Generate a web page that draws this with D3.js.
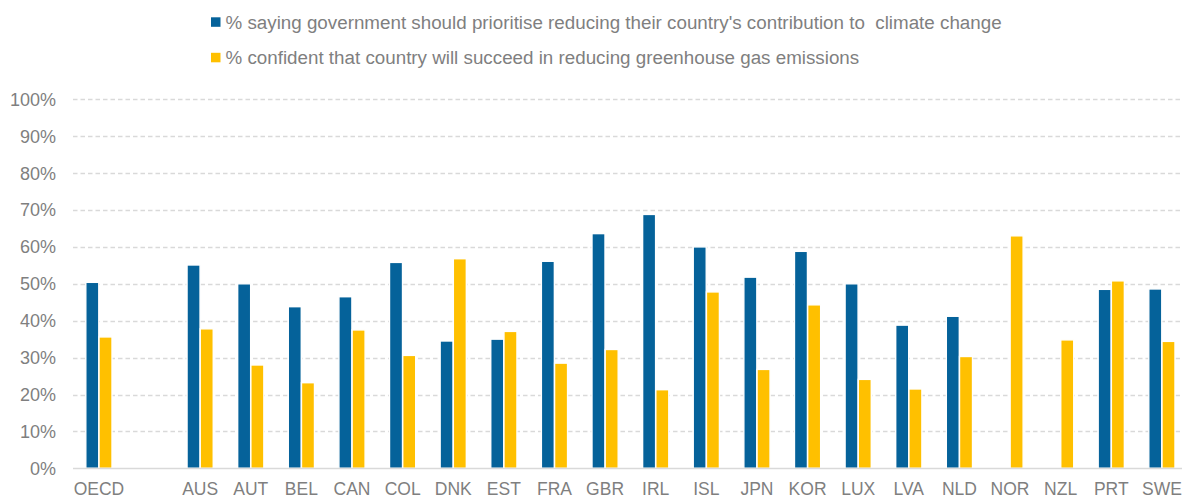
<!DOCTYPE html>
<html>
<head>
<meta charset="utf-8">
<script src="https://cdn.jsdelivr.net/npm/d3@7"></script>
<style>
  html, body { margin: 0; padding: 0; background: #fff; }
  svg { display: block; font-family: "Liberation Sans", Arial, sans-serif; }
</style>
</head>
<body>
<svg id="chart" width="1182" height="498"></svg>
<script>
const categories = ["OECD", "", "AUS", "AUT", "BEL", "CAN", "COL", "DNK", "EST", "FRA", "GBR", "IRL", "ISL", "JPN", "KOR", "LUX", "LVA", "NLD", "NOR", "NZL", "PRT", "SWE"];
const prioritise = [50.4, null, 55.1, 50.0, 43.8, 46.5, 55.8, 34.5, 35.0, 56.1, 63.6, 68.8, 60.0, 51.8, 58.8, 50.0, 38.8, 41.2, null, null, 48.5, 48.6];
const confident  = [35.6, null, 37.8, 28.0, 23.2, 37.5, 30.6, 56.8, 37.1, 28.5, 32.2, 21.3, 47.8, 26.8, 44.3, 24.1, 21.5, 30.3, 63.0, 34.8, 50.8, 34.4];
const seriesNames = ["% saying government should prioritise reducing their country's contribution to  climate change",
                     "% confident that country will succeed in reducing greenhouse gas emissions"];
const yTicks = [0, 10, 20, 30, 40, 50, 60, 70, 80, 90, 100];

const colors = ["#05629A", "#FFC000"];
const textColor = "#7f7f7f";
const gridColor = "#d9d9d9";

const svg = d3.select("#chart");
const keys = categories.map((c, i) => c === "" ? "__gap" + i : c);

const x = d3.scaleBand().domain(keys).range([73.6, 1187.2]).padding(0);
const y = d3.scaleLinear().domain([0, 100]).range([468.3, 99.3]);

// gridlines
svg.append("g").selectAll("line").data(yTicks.filter(t => t > 0)).join("line")
  .attr("x1", 73).attr("x2", 1182)
  .attr("y1", d => Math.round(y(d)) + 0.5).attr("y2", d => Math.round(y(d)) + 0.5)
  .attr("stroke", gridColor).attr("stroke-width", 1.3).attr("stroke-dasharray", "4.5,3");

// y tick labels
svg.append("g").selectAll("text").data(yTicks).join("text")
  .attr("x", 56).attr("y", d => y(d)).attr("dy", "0.36em")
  .attr("text-anchor", "end").attr("fill", textColor).attr("font-size", 18)
  .text(d => d + "%");

// bars
const data = categories.map((c, i) => ({ key: keys[i], vals: [prioritise[i], confident[i]] }));
const barW = 13;
const g = svg.append("g");
data.forEach(d => {
  const cx = x(d.key) + x.bandwidth() / 2;
  d.vals.forEach((v, j) => {
    if (v == null) return;
    g.append("rect")
      .attr("x", j === 0 ? cx - barW - 0.1 : cx + 0.1)
      .attr("y", y(v))
      .attr("width", barW)
      .attr("height", y(0) - y(v))
      .attr("fill", colors[j])
      .attr("stroke", "#fff").attr("stroke-width", 1.4);
  });
});

// x axis baseline
svg.append("line").attr("x1", 73).attr("x2", 1182).attr("y1", 468.5).attr("y2", 468.5)
  .attr("stroke", gridColor).attr("stroke-width", 1.5);

// x labels
svg.append("g").selectAll("text").data(data).join("text")
  .attr("x", d => x(d.key) + x.bandwidth() / 2).attr("y", 495)
  .attr("text-anchor", "middle").attr("fill", textColor).attr("font-size", 17.5)
  .text((d, i) => categories[i]);

// legend
const legend = svg.append("g");
seriesNames.forEach((name, i) => {
  const ly = 22 + i * 35.5;
  legend.append("rect").attr("x", 211).attr("y", ly - 4.7).attr("width", 9.5).attr("height", 9.5).attr("fill", colors[i]);
  legend.append("text").attr("x", 225.5).attr("y", ly).attr("dy", "0.35em")
    .attr("fill", textColor).attr("font-size", 18.8).attr("xml:space", "preserve")
    .style("white-space", "pre")
    .text(name);
});
</script>
</body>
</html>
